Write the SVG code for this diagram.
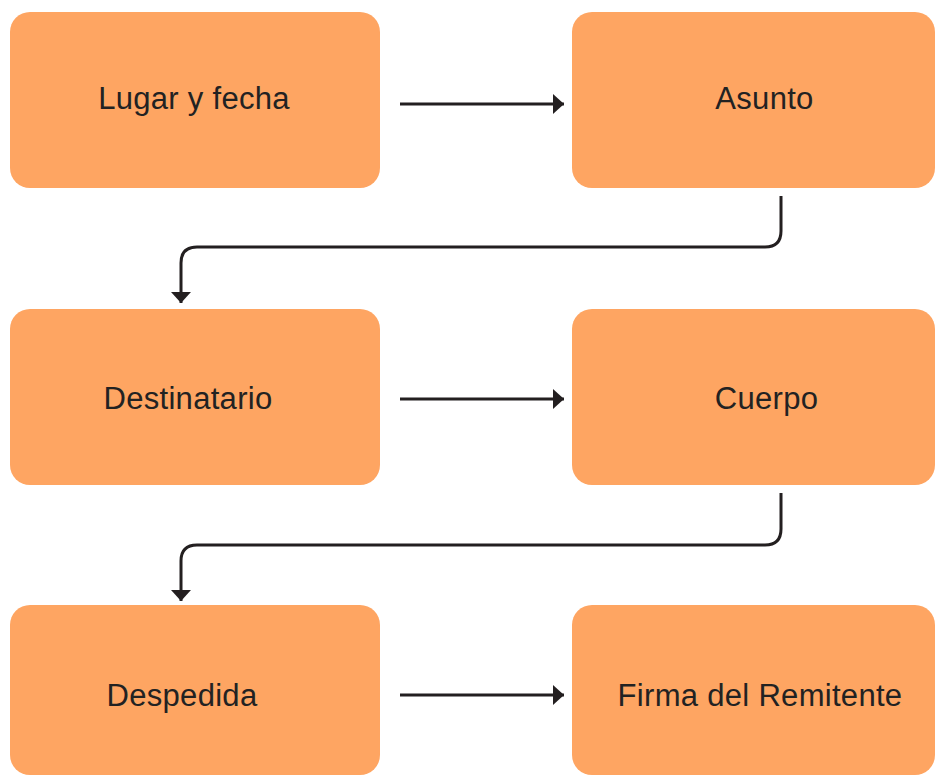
<svg xmlns="http://www.w3.org/2000/svg" width="936" height="776" viewBox="0 0 936 776">
<style>
.box{fill:#FEA562;}
.lbl{font-family:"Liberation Sans",Arial,sans-serif;font-size:31px;letter-spacing:0.3px;fill:#222222;text-anchor:middle;}
.con{fill:none;stroke:#231F20;stroke-width:3;}
</style>
<defs>
<marker id="ah" viewBox="0 0 11 20" refX="11" refY="10" markerWidth="11" markerHeight="20" markerUnits="userSpaceOnUse" orient="auto">
<path d="M0,0 L11,10 L0,20 Z" fill="#231F20"/>
</marker>
</defs>
<g id="connectors">
<path class="con" d="M400,104 H564" marker-end="url(#ah)"/>
<path class="con" d="M781,196 V231 Q781,247 765,247 H197 Q181,247 181,263 V303" marker-end="url(#ah)"/>
<path class="con" d="M400,399 H564" marker-end="url(#ah)"/>
<path class="con" d="M781,493 V529 Q781,545 765,545 H197 Q181,545 181,561 V601" marker-end="url(#ah)"/>
<path class="con" d="M400,695 H564" marker-end="url(#ah)"/>
</g>
<g id="n1"><rect class="box" x="10" y="12" width="370" height="176" rx="20"/><text class="lbl" x="194" y="109">Lugar y fecha</text></g>
<g id="n2"><rect class="box" x="572" y="12" width="363" height="176" rx="20"/><text class="lbl" x="764.5" y="109">Asunto</text></g>
<g id="n3"><rect class="box" x="10" y="309" width="370" height="176" rx="20"/><text class="lbl" x="188" y="409">Destinatario</text></g>
<g id="n4"><rect class="box" x="572" y="309" width="363" height="176" rx="20"/><text class="lbl" x="766.5" y="409">Cuerpo</text></g>
<g id="n5"><rect class="box" x="10" y="605" width="370" height="170" rx="20"/><text class="lbl" x="182" y="706">Despedida</text></g>
<g id="n6"><rect class="box" x="572" y="605" width="363" height="170" rx="20"/><text class="lbl" x="760" y="706">Firma del Remitente</text></g>
</svg>
